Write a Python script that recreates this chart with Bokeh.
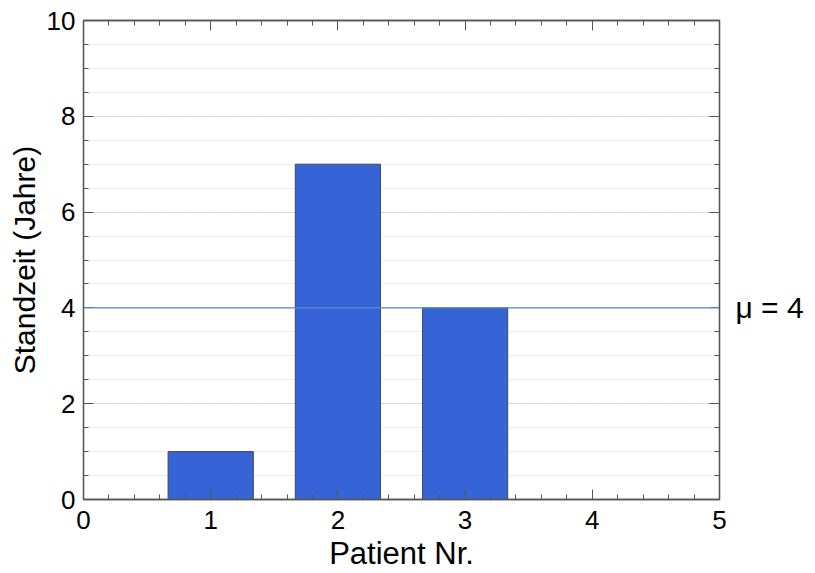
from bokeh.plotting import figure
from bokeh.models import Range1d, LinearAxis, Span, FixedTicker
from bokeh.embed import file_html
from bokeh.resources import INLINE

patients = [1, 2, 3]
standzeit = [1, 7, 4]
mean_value = 4
mean_label = "μ = 4"
x_ticks = [0, 1, 2, 3, 4, 5]
y_ticks = [0, 2, 4, 6, 8, 10]

FONT = "Liberation Sans"

p = figure(width=815, height=573, output_backend="svg", toolbar_location=None,
           x_range=Range1d(0, 5), y_range=Range1d(0, 10),
           min_border_left=83, min_border_right=96, min_border_top=20, min_border_bottom=74)
p.xaxis.visible = False
p.yaxis.visible = False

p.vbar(x=patients, top=standzeit, width=0.67, fill_color="#3663D6",
       line_color="#404a5a", line_width=1)

p.add_layout(Span(location=mean_value, dimension="width", line_color="#5b8fc4", line_width=1.3))

def style(ax):
    ax.major_tick_in = 10
    ax.major_tick_out = 0
    ax.minor_tick_in = 5
    ax.minor_tick_out = 0
    ax.axis_line_color = "#555555"
    ax.major_tick_line_color = "#555555"
    ax.minor_tick_line_color = "#555555"
    ax.axis_line_width = 1.3
    ax.major_label_text_font = FONT
    ax.major_label_text_font_size = "26px"
    ax.major_label_text_color = "black"
    ax.axis_label_text_font = FONT
    ax.axis_label_text_font_style = "normal"
    ax.axis_label_text_color = "black"

xt = FixedTicker(ticks=x_ticks, minor_ticks=[i * 0.2 for i in range(26)])
yt = FixedTicker(ticks=y_ticks, minor_ticks=[i * 0.5 for i in range(21)])
yt_right = FixedTicker(ticks=y_ticks, minor_ticks=[i * 0.5 for i in range(21)])

xb = LinearAxis(ticker=xt, axis_label="Patient Nr.")
style(xb)
xb.axis_label_text_font_size = "31px"
xb.major_label_standoff = 11
xb.axis_label_standoff = 4
p.add_layout(xb, "below")

xa = LinearAxis(ticker=xt)
style(xa)
xa.major_label_overrides = {t: "" for t in x_ticks}
p.add_layout(xa, "above")

yl = LinearAxis(ticker=yt, axis_label="Standzeit (Jahre)")
style(yl)
yl.axis_label_text_font_size = "30px"
yl.major_label_standoff = 8
yl.axis_label_standoff = 3
p.add_layout(yl, "left")

yr = LinearAxis(ticker=yt_right)
style(yr)
yr.major_label_text_font_size = "30px"
yr.major_label_overrides = {t: (mean_label if t == mean_value else "") for t in y_ticks}
yr.major_label_standoff = 16
p.add_layout(yr, "right")

p.xgrid.visible = False
p.ygrid.ticker = yt
p.ygrid.grid_line_color = "#cccccc"
p.ygrid.grid_line_dash = "2 1"
p.ygrid.grid_line_width = 1
p.ygrid.minor_grid_line_color = "#e4e4e4"
p.ygrid.minor_grid_line_dash = "2 1"
p.ygrid.minor_grid_line_width = 1

p.outline_line_color = "#555555"
p.outline_line_width = 1.3

open("out.html", "w").write(file_html(p, INLINE))
